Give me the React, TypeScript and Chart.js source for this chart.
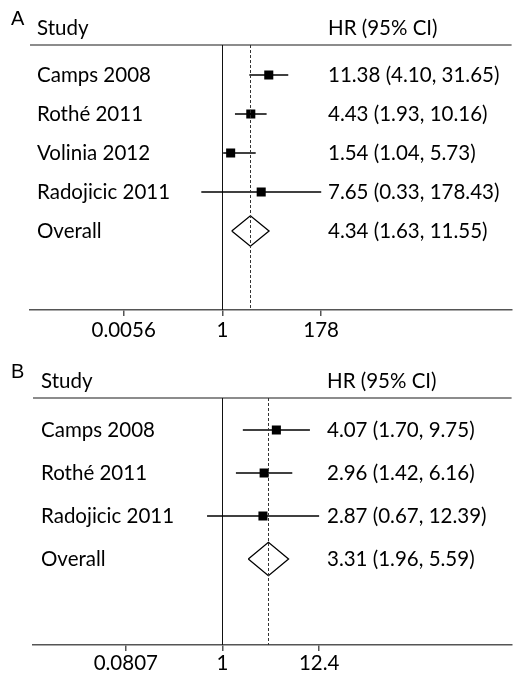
import React, { useEffect, useRef } from "react";
import { Chart, registerables } from "chart.js";

Chart.register(...registerables);

// ---------- Panel A data ----------
const STUDIES_A = ["Camps 2008", "Rothé 2011", "Volinia 2012", "Radojicic 2011"];
const HR_A = [11.38, 4.43, 1.54, 7.65];
const LO_A = [4.1, 1.93, 1.04, 0.33];
const HI_A = [31.65, 10.16, 5.73, 178.43];
const OVERALL_A = [4.34, 1.63, 11.55]; // estimate, lower, upper
const TICKS_A = [0.0056, 1, 178];
const TICK_LABELS_A = ["0.0056", "1", "178"];

// ---------- Panel B data ----------
const STUDIES_B = ["Camps 2008", "Rothé 2011", "Radojicic 2011"];
const HR_B = [4.07, 2.96, 2.87];
const LO_B = [1.7, 1.42, 0.67];
const HI_B = [9.75, 6.16, 12.39];
const OVERALL_B = [3.31, 1.96, 5.59];
const TICKS_B = [0.0807, 1, 12.4];
const TICK_LABELS_B = ["0.0807", "1", "12.4"];

const HEADER_STUDY = "Study";
const HEADER_HR = "HR (95% CI)";
const OVERALL_LABEL = "Overall";

const FONT = "Lato, 'Open Sans', sans-serif";
const FONT_SIZE = 20.5;

type Panel = {
  letter: string;
  studies: string[];
  hr: number[];
  lo: number[];
  hi: number[];
  overall: number[];
  ticks: number[];
  tickLabels: string[];
  xMin: number;
  xMax: number;
  yMin: number;
  yMax: number;
  top: number;
  height: number;
  padLeft: number;
  padTop: number;
  padBottom: number;
  tickPad: number;
  nameOffset: number;
  hrX: number;
};

const fmt = (v: number) => v.toFixed(2);

const forestPlugin = {
  id: "forest",
  beforeDatasetsDraw(chart: any, _args: any, opts: any) {
    const { ctx, chartArea: ca, scales } = chart;
    const x = scales.x;
    ctx.save();
    // top rule
    ctx.strokeStyle = "#666";
    ctx.lineWidth = 1.5;
    ctx.beginPath();
    ctx.moveTo(ca.left, ca.top);
    ctx.lineTo(ca.right, ca.top);
    ctx.stroke();
    // null line at HR = 1
    const x1 = Math.round(x.getPixelForValue(1)) + 0.5;
    ctx.strokeStyle = "#111";
    ctx.lineWidth = 1;
    ctx.beginPath();
    ctx.moveTo(x1, ca.top);
    ctx.lineTo(x1, ca.bottom);
    ctx.stroke();
    ctx.restore();
  },
  afterDatasetsDraw(chart: any, _args: any, opts: any) {
    const { ctx, chartArea: ca, scales } = chart;
    const x = scales.x;
    const y = scales.y;
    const p: Panel = opts.panel;
    ctx.save();
    // dashed line at overall estimate
    const xd = Math.round(x.getPixelForValue(p.overall[0])) + 0.5;
    ctx.strokeStyle = "#333";
    ctx.lineWidth = 1;
    ctx.setLineDash([3, 2]);
    ctx.beginPath();
    ctx.moveTo(xd, ca.top);
    ctx.lineTo(xd, ca.bottom);
    ctx.stroke();
    ctx.setLineDash([]);

    // panel letter
    ctx.fillStyle = "#000";
    ctx.textBaseline = "alphabetic";
    ctx.textAlign = "left";
    ctx.font = "20px 'Liberation Sans', Arial, sans-serif";
    ctx.fillText(p.letter, 11, ca.top - 20);

    // headers
    ctx.fillStyle = "#000";
    ctx.font = `${FONT_SIZE}px ${FONT}`;
    ctx.fillText(HEADER_STUDY, ca.left + p.nameOffset, ca.top - 10.5);
    ctx.fillText(HEADER_HR, p.hrX, ca.top - 10.5);

    // rows
    const names = [...p.studies, OVERALL_LABEL];
    const texts = [
      ...p.hr.map((h, i) => `${fmt(h)} (${fmt(p.lo[i])}, ${fmt(p.hi[i])})`),
      `${fmt(p.overall[0])} (${fmt(p.overall[1])}, ${fmt(p.overall[2])})`,
    ];
    names.forEach((n, i) => {
      const py = y.getPixelForValue(i) + 7.5;
      ctx.fillText(n, ca.left + p.nameOffset, py);
      ctx.fillText(texts[i], p.hrX, py);
    });
    ctx.restore();
  },
};

const CANVAS_W = 518;

function ForestPanel({ p }: { p: Panel }) {
  const ref = useRef<HTMLCanvasElement | null>(null);
  useEffect(() => {
    if (!ref.current) return;
    const ciSets = p.studies.map((_, i) => ({
      label: `ci${i}`,
      data: [
        { x: p.lo[i], y: i },
        { x: p.hi[i], y: i },
      ],
      showLine: true,
      borderColor: "#000",
      borderWidth: 1.5,
      pointRadius: 0,
      order: 2,
    }));
    const k = p.studies.length;
    const dh = 0.39;
    const diamond = {
      label: "overall",
      data: [
        { x: p.overall[1], y: k },
        { x: p.overall[0], y: k - dh },
        { x: p.overall[2], y: k },
        { x: p.overall[0], y: k + dh },
        { x: p.overall[1], y: k },
      ],
      showLine: true,
      borderColor: "#000",
      borderWidth: 1.3,
      pointRadius: 0,
      tension: 0,
      fill: false,
      order: 1,
    };
    const squares = {
      label: "hr",
      data: p.hr.map((h, i) => ({ x: h, y: i })),
      showLine: false,
      pointStyle: "rect",
      pointRadius: 6.4,
      backgroundColor: "#000",
      borderColor: "#000",
      borderWidth: 0,
      order: 0,
    };
    const chart = new Chart(ref.current, {
      type: "scatter",
      data: { datasets: [...ciSets, diamond, squares] as any },
      options: {
        animation: false,
        responsive: false,
        maintainAspectRatio: false,
        devicePixelRatio: 1,
        layout: {
          padding: { left: p.padLeft, right: 0, top: p.padTop, bottom: p.padBottom },
        },
        plugins: {
          legend: { display: false },
          tooltip: { enabled: false },
          forest: { panel: p },
        } as any,
        scales: {
          x: {
            type: "logarithmic",
            position: "bottom",
            min: p.xMin,
            max: p.xMax,
            afterBuildTicks: (axis: any) => {
              axis.ticks = p.ticks.map((v) => ({ value: v }));
            },
            grid: {
              display: true,
              drawOnChartArea: false,
              drawTicks: true,
              tickLength: 6,
              color: "#555",
              lineWidth: 1.5,
            },
            border: { display: true, color: "#555", width: 1.5 },
            ticks: {
              autoSkip: false,
              maxRotation: 0,
              padding: p.tickPad,
              color: "#000",
              font: { family: FONT, size: FONT_SIZE, lineHeight: 0.9 },
              callback: (_v: any, i: number) => p.tickLabels[i],
            },
          },
          y: {
            type: "linear",
            min: p.yMin,
            max: p.yMax,
            reverse: true,
            display: false,
          },
        },
      },
      plugins: [forestPlugin],
    });
    return () => chart.destroy();
  }, [p]);
  return (
    <canvas
      ref={ref}
      width={CANVAS_W}
      height={p.height}
      style={{ position: "absolute", left: 0, top: p.top, width: CANVAS_W, height: p.height }}
    />
  );
}

const PANEL_A: Panel = {
  letter: "A",
  studies: STUDIES_A,
  hr: HR_A,
  lo: LO_A,
  hi: HI_A,
  overall: OVERALL_A,
  ticks: TICKS_A,
  tickLabels: TICK_LABELS_A,
  xMin: 4.11e-5,
  xMax: 3.9e6,
  yMin: -0.769,
  yMax: 6.026,
  top: 0,
  height: 348,
  padLeft: 30,
  padTop: 45,
  padBottom: 3.55,
  tickPad: 5,
  nameOffset: 7,
  hrX: 328,
};

const PANEL_B: Panel = {
  letter: "B",
  studies: STUDIES_B,
  hr: HR_B,
  lo: LO_B,
  hi: HI_B,
  overall: OVERALL_B,
  ticks: TICKS_B,
  tickLabels: TICK_LABELS_B,
  xMin: 0.00721,
  xMax: 1859,
  yMin: -0.744,
  yMax: 5.0,
  top: 348,
  height: 330,
  padLeft: 33,
  padTop: 50,
  padBottom: 1.55,
  tickPad: 3.5,
  nameOffset: 8,
  hrX: 327,
};

export default function App() {
  return (
    <div
      style={{
        position: "absolute",
        left: 0,
        top: 0,
        width: 513,
        height: 678,
        background: "#fff",
        overflow: "hidden",
      }}
    >
      <ForestPanel p={PANEL_A} />
      <ForestPanel p={PANEL_B} />
    </div>
  );
}
